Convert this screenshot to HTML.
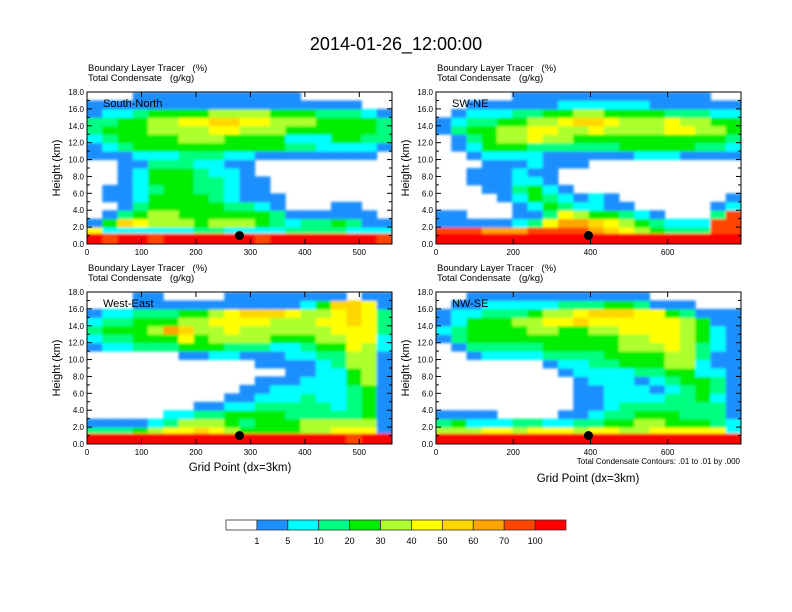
<!DOCTYPE html>
<html><head><meta charset="utf-8">
<style>
body{margin:0;background:#fff;}
svg{display:block;font-family:"Liberation Sans",Arial,sans-serif;}
</style></head>
<body>
<svg id="chart" width="792" height="612" viewBox="0 0 792 612" xmlns="http://www.w3.org/2000/svg">
<defs><filter id="soft" x="-5%" y="-5%" width="110%" height="110%"><feGaussianBlur stdDeviation="1.3"/></filter></defs>
<rect width="792" height="612" fill="#fff"/>
<text x="396" y="50" font-size="18" text-anchor="middle">2014-01-26_12:00:00</text>
<g id="panels"></g>
<g id="colorbar"></g>
</svg>
<script>
const levelColors = ["#ffffff","#1e8fff","#00ffff","#00ff80","#00ee00","#adff2f","#ffff00","#ffd700","#ffa500","#ff4500","#ff0000"];
const levelLabels = ["1","5","10","20","30","40","50","60","70","100"];
const rowBounds = [0,1.3,2,3,4,5,6,7,8,9,10,11,12,13,14,15,16,17,18];
const yTicks = [0,2,4,6,8,10,12,14,16,18];
const ticksSN = [0,100,200,300,400,500];
const ticksDiag = [0,200,400,600];
const gridSN = [
"00011111111111000000",
"11111111111111111100",
"12234444555544433321",
"33445566776655544443",
"34445555665554444443",
"23444455544442224433",
"12344444444443322221",
"11122233322111111110",
"00113332211000000000",
"00124443221000000000",
"00124443321100000000",
"01123443321100000000",
"01124444321110000000",
"00134444433210001100",
"01345544444431111110",
"14765554555432334311",
"62222223322223333222",
"a9aa9aaaaaa9aaaaaaa9"];
const gridSWNE = [
"00000111111111111100",
"00111111222222111111",
"01222334455444433322",
"12334455677655565544",
"13445566556555566554",
"01345565544444444443",
"01244433333344444332",
"00122221111112221111",
"00011121110000000000",
"00111211000000000000",
"00111221000000000000",
"00011342100000000000",
"00001243212100000001",
"00000124322110000012",
"11000113654432100039",
"11111236887654322299",
"99988899998765433399",
"aaaaaaaaaaaaaaaaaaaa"];
const gridWE = [
"00011000011111111011",
"00011111111111247761",
"12233344567776556763",
"23344455666655566763",
"34445875565555556663",
"23344464555544455662",
"12233344433322344652",
"00000011221112233551",
"00000000000111123551",
"00000000000001122451",
"00000000000111222451",
"00000000001122222341",
"00000000011222322341",
"00000001122333332341",
"00000223344443333341",
"11112355543444555551",
"33345667654444556661",
"aaaaaaaaaaaaaaaaa9aa"];
const gridNWSE = [
"00111111111111000000",
"01122222333443111000",
"12233345567776643111",
"12444556676666665411",
"23444455445566665421",
"13444444444455665421",
"01333334444455565321",
"00122223333444455311",
"00000001223344455211",
"00000000122223344221",
"00000000012221234431",
"00000000011222123431",
"00000000011222233421",
"00000000011233333331",
"11110000112334443331",
"34222332233445544432",
"55566566656655666662",
"aaaaaaaaaaaaaaaaaaaa"];
const markerSN = [280,1.0], markerSWNE = [395,1.0], markerWE = [280,1.0], markerNWSE = [395,1.0];

const NS="http://www.w3.org/2000/svg";
function mk(tag,attrs,parent){const e=document.createElementNS(NS,tag);for(const k in attrs)e.setAttribute(k,attrs[k]);parent.appendChild(e);return e;}
const panelsG=document.getElementById('panels');
const defs=document.querySelector('defs');

const panels=[
 {name:"south-north",label:"South-North",x0:87,x1:392,y0:92,y1:244,xmax:560,grid:gridSN,ticks:ticksSN,marker:markerSN},
 {name:"sw-ne",label:"SW-NE",x0:436,x1:741,y0:92,y1:244,xmax:790,grid:gridSWNE,ticks:ticksDiag,marker:markerSWNE},
 {name:"west-east",label:"West-East",x0:87,x1:392,y0:292,y1:444,xmax:560,grid:gridWE,ticks:ticksSN,marker:markerWE},
 {name:"nw-se",label:"NW-SE",x0:436,x1:741,y0:292,y1:444,xmax:790,grid:gridNWSE,ticks:ticksDiag,marker:markerNWSE}
];

panels.forEach((p,pi)=>{
 const g=mk('g',{},panelsG);
 
 
 const xs=v=>p.x0+(v/p.xmax)*(p.x1-p.x0);
 const ys=h=>p.y1-(h/18)*(p.y1-p.y0);
 const cp=mk('clipPath',{id:'clip'+pi},defs);
 mk('rect',{x:p.x0,y:p.y0,width:p.x1-p.x0,height:p.y1-p.y0},cp);
 const clipG=mk('g',{'clip-path':`url(#clip${pi})`},g);
 const nRows=p.grid.length, nCols=p.grid[0].length, cw=p.xmax/nCols;
 const cells=mk('g',{filter:'url(#soft)'},clipG);
 
 
 for(let r=0;r<nRows;r++){
  const row=p.grid[nRows-1-r];
  const hb=rowBounds[r], ht=rowBounds[r+1];
  for(let c=0;c<nCols;c++){
   const lv=parseInt(row[c],16);
   if(lv===0)continue;
   let xa=xs(c*cw), xb=xs((c+1)*cw);
   let yt=ys(ht), yb=ys(hb);
   if(c===0)xa-=4; if(c===nCols-1)xb+=4; if(r===0)yb+=4;
   const rect=mk('rect',{x:xa,y:yt,width:xb-xa+0.5,height:yb-yt+0.5,fill:levelColors[lv]},cells);
   
   
  }
 }
 const dot=mk('circle',{cx:xs(p.marker[0]),cy:ys(p.marker[1]),r:4.5,fill:'#000'},g);
 
 
 const fr=mk('rect',{x:p.x0,y:p.y0,width:p.x1-p.x0,height:p.y1-p.y0,fill:'none',stroke:'#000','stroke-width':1},g);
 
 
 yTicks.forEach(t=>{
  const y=ys(t);
  mk('line',{x1:p.x0,x2:p.x0+5,y1:y,y2:y,stroke:'#000'},g);
  mk('line',{x1:p.x1,x2:p.x1-5,y1:y,y2:y,stroke:'#000'},g);
  if(t<18){const ym=ys(t+1);mk('line',{x1:p.x0,x2:p.x0+3,y1:ym,y2:ym,stroke:'#000'},g);mk('line',{x1:p.x1,x2:p.x1-3,y1:ym,y2:ym,stroke:'#000'},g);}
  const tl=mk('text',{x:p.x0-3,y:y+3,'font-size':8,'text-anchor':'end'},g);
  tl.textContent=t.toFixed(1);
  
  
 });
 p.ticks.forEach(t=>{
  const x=xs(t);
  mk('line',{x1:x,x2:x,y1:p.y1,y2:p.y1-5,stroke:'#000'},g);
  mk('line',{x1:x,x2:x,y1:p.y0,y2:p.y0+5,stroke:'#000'},g);
  const tl=mk('text',{x:x,y:p.y1+11,'font-size':8,'text-anchor':'middle'},g);
  tl.textContent=t;
  
  
 });
 const yt=mk('text',{x:0,y:0,'font-size':11,'text-anchor':'middle',transform:`translate(${p.x0-27},${(p.y0+p.y1)/2}) rotate(-90)`},g);
 yt.textContent="Height (km)";
 
 
 const t1=mk('text',{x:p.x0+1,y:p.y0-21,'font-size':9.5},g);
 t1.textContent="Boundary Layer Tracer   (%)";
 t1.style.whiteSpace='pre';
 
 
 const t2=mk('text',{x:p.x0+1,y:p.y0-11,'font-size':9.5},g);
 t2.textContent="Total Condensate   (g/kg)";
 t2.style.whiteSpace='pre';
 
 
 const pl=mk('text',{x:p.x0+16,y:p.y0+15,'font-size':11},g);
 pl.textContent=p.label;
 
 
});

const xt1=mk('text',{x:240,y:471,'font-size':11.5,'text-anchor':'middle'},panelsG);
xt1.textContent="Grid Point (dx=3km)";


const note=mk('text',{x:740,y:464,'font-size':8,'text-anchor':'end'},panelsG);
note.textContent="Total Condensate Contours: .01 to .01 by .000";


const xt2=mk('text',{x:588,y:482,'font-size':11.5,'text-anchor':'middle'},panelsG);
xt2.textContent="Grid Point (dx=3km)";



const cb=document.getElementById('colorbar');
const cbx0=226, cbx1=566, cby=520, cbh=10, bw=(cbx1-cbx0)/levelColors.length;
levelColors.forEach((c,i)=>{
 const r=mk('rect',{x:cbx0+i*bw,y:cby,width:bw,height:cbh,fill:c,stroke:'#333','stroke-width':0.8},cb);
 
 
});
levelLabels.forEach((l,i)=>{
 const t=mk('text',{x:cbx0+(i+1)*bw,y:544,'font-size':9,'text-anchor':'middle'},cb);
 t.textContent=l;
 
 
});
</script>
</body></html>
